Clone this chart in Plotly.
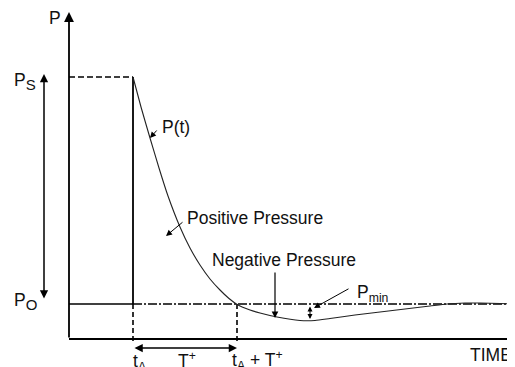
import plotly.graph_objects as go

# ---- data (units: time and pressure, arbitrary) ----
t_A = 6.4          # arrival time
T_plus = 10.4      # positive phase duration
P_S = 26.2         # peak pressure
P_O = 3.5          # ambient pressure
time_end = 44.6

curve_t = [6.4, 7.2, 8.1, 9.0, 9.9, 11.1, 12.1, 13.1, 14.1, 15.1, 16.0, 16.9,
           18.1, 19.1, 20.8, 23.1, 24.6, 26.1, 28.6, 31.1, 33.6, 36.1, 37.8,
           39.6, 41.1, 43.1, 44.6]
curve_p = [26.2, 23.2, 20.1, 17.1, 14.3, 11.2, 9.1, 7.4, 6.0, 4.9, 4.05, 3.4,
           2.9, 2.6, 2.2, 1.85, 1.85, 2.05, 2.4, 2.7, 3.0, 3.3, 3.5,
           3.6, 3.6, 3.55, 3.5]

FONT = "Arial, Liberation Sans, sans-serif"
INK = "#111111"
FS = 17.5

fig = go.Figure()

def seg(xs, ys, dash="solid", width=1.6, color="black"):
    fig.add_trace(go.Scatter(x=xs, y=ys, mode="lines",
                             line=dict(color=color, width=width, dash=dash),
                             hoverinfo="skip", showlegend=False))

# time axis
seg([0, time_end], [0, 0], width=1.8)
# Ps dashed level
seg([0, t_A], [P_S, P_S], dash="6px,3px")
# vertical at t_A
seg([t_A, t_A], [P_S, P_O], width=1.8)
seg([t_A, t_A], [P_O, -0.3], dash="5px,3px")
# P0 line
seg([0, t_A], [P_O, P_O], width=1.3)
seg([t_A, time_end], [P_O, P_O], dash="9px,2px,2px,2px", width=1.3)
# dashed vertical at tA + T+
seg([t_A + T_plus, t_A + T_plus], [P_O, -0.3], dash="5px,3px")
# pressure-time curve
fig.add_trace(go.Scatter(x=curve_t, y=curve_p, mode="lines",
                         line=dict(color="#222222", width=1.1, shape="spline", smoothing=0.6),
                         hoverinfo="skip", showlegend=False))

def arrow(x, y, ax, ay, both=False, width=1.5, size=1.1):
    fig.add_annotation(x=x, y=y, ax=ax, ay=ay, xref="x", yref="y",
                       axref="x", ayref="y", text="", showarrow=True,
                       arrowhead=2, arrowsize=size, arrowwidth=width,
                       arrowcolor="black",
                       arrowside="end+start" if both else "end")

def label(x, y, text, size=FS, xanchor="center"):
    fig.add_annotation(x=x, y=y, xref="x", yref="y", text=text, showarrow=False,
                       font=dict(family=FONT, size=size, color=INK),
                       xanchor=xanchor, yanchor="middle")

SUB = "<sub><span style='font-size:15px'>{}</span></sub>"

# P axis with arrow
arrow(0, 32.7, 0, 0, width=1.8)
label(-1.4, 32.1, "P")
# left double arrow Ps..P0
arrow(-2.5, 26.5, -2.5, 3.9, both=True, width=1.5)
label(-4.4, 25.8, "P" + SUB.format("S"))
label(-4.4, 3.8, "P" + SUB.format("O"))
# T+ double arrow
arrow(t_A + T_plus, -0.9, t_A, -0.9, both=True, width=1.5)
label(t_A + 0.7, -2.3, "t<sub>A</sub>")
label(11.8, -2.1, "T<sup>+</sup>")
label(18.8, -2.1, "t<sub>A</sub> + T<sup>+</sup>")
label(44.5, -1.6, "TIME", xanchor="right")

# P(t)
label(9.1, 21.2, "P(t)", xanchor="left")
arrow(8.1, 20.1, 8.9, 21.0, width=1.0, size=1.2)
# Positive Pressure
label(11.6, 12.1, "Positive Pressure", xanchor="left")
arrow(9.7, 10.3, 11.5, 11.8, width=1.0, size=1.2)
# Negative Pressure
label(14.1, 7.9, "Negative Pressure", xanchor="left")
arrow(20.6, 2.1, 20.6, 6.8, width=1.2, size=1.1)
# Pmin
label(28.6, 4.6, "P<sub>min</sub>", xanchor="left")
arrow(24.5, 3.1, 28.1, 5.1, width=1.0, size=1.2)
arrow(24.1, 2.0, 24.1, 3.4, both=True, width=1.0, size=1.0)

# page body has an 8px margin: figure is 8px smaller and ranges shifted to compensate
fig.update_layout(
    width=507, height=359,
    margin=dict(l=0, r=0, t=0, b=0),
    paper_bgcolor="white", plot_bgcolor="white",
    xaxis=dict(range=[-6.1, 44.6], visible=False, fixedrange=True),
    yaxis=dict(range=[-2.8, 33.1], visible=False, fixedrange=True),
    showlegend=False,
)

fig.write_html("out.html")
